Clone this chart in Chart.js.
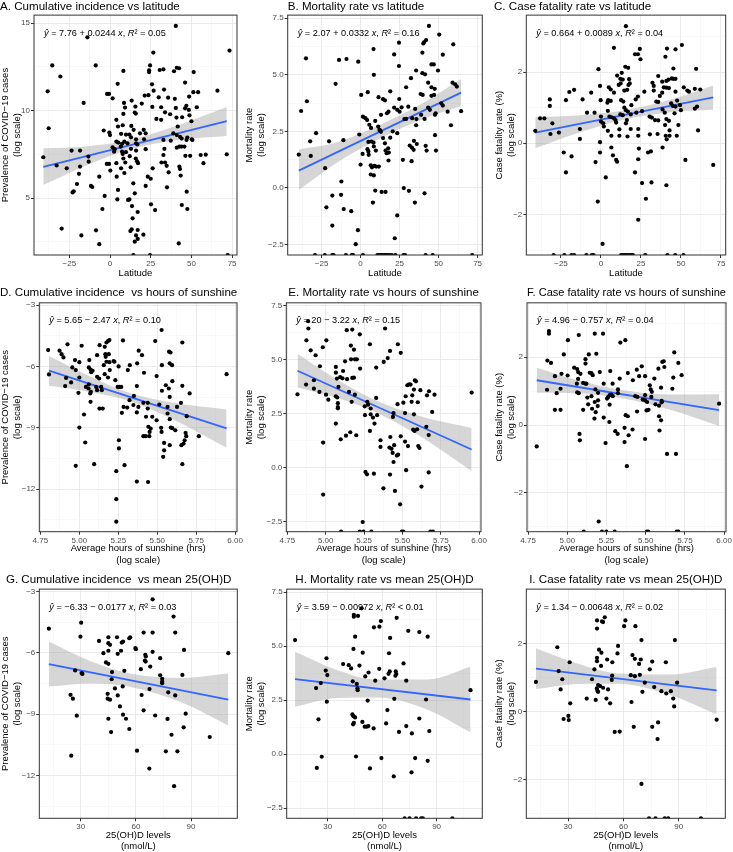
<!DOCTYPE html>
<html>
<head>
<meta charset="utf-8">
<script src="https://cdn.jsdelivr.net/npm/chart.js@4.4.0/dist/chart.umd.min.js"></script>
<style>
  body { margin: 0; background: #fff; }
  #fig { position: relative; width: 733px; height: 852px; overflow: hidden; }
  #fig canvas { position: absolute; }
</style>
</head>
<body>
<div id="fig"></div>
<script>
// ---- axis ticks / limits ----
const latTicks = [-25, 0, 25, 50, 75];
const latLabels = ['−25', '0', '25', '50', '75'];
const sunTicks = [4.75, 5.0, 5.25, 5.5, 5.75, 6.0];
const sunLabels = ['4.75', '5.00', '5.25', '5.50', '5.75', '6.00'];
const vitTicks = [30, 60, 90];
const vitLabels = ['30', '60', '90'];
const incTicksA = [5, 10, 15];
const incLabelsA = ['5', '10', '15'];
const incTicks = [-12, -9, -6, -3];
const incLabels = ['−12', '−9', '−6', '−3'];
const mortTicks = [-2.5, 0, 2.5, 5, 7.5];
const mortLabels = ['−2.5', '0.0', '2.5', '5.0', '7.5'];
const cfrTicks = [-2, 0, 2];
const cfrLabels = ['−2', '0', '2'];

const latRange = [-46.7, 78];
const sunRange = [4.743, 6.012];
const vitRange = [7.4, 115.2];
const incRangeA = [1.74, 15.46];
const incRange = [-14.08, -2.89];
const mortRange = [-2.97, 7.64];
const cfrRange = [-3.14, 3.6];

// ---- points [x, y]; -Infinity = zero count, drawn on the lower panel edge ----
const ptsA = [[40.4,14.84],[-13.9,14.19],[73.4,13.43],[26.6,13.32],[-35.5,12.58],[-8.8,12.58],[24.6,12.58],[30.5,12.32],[32.8,12.36],[24,12.3],[24,12.2],[8.2,12.27],[41,12.45],[42.4,12.42],[39.3,12.25],[51.4,12.2],[-30.5,11.95],[4.7,11.53],[46.1,11.6],[25.8,11.5],[26.8,11.14],[-38.3,11.1],[33.2,11.2],[51.2,11.05],[54.1,11.05],[66,11.14],[-1.8,10.95],[-0.6,10.95],[1.6,10.7],[21.3,10.86],[23.6,10.88],[29.9,10.76],[35.7,10.74],[39.8,10.67],[48.6,10.8],[-16.2,10.44],[8.6,10.44],[13.3,10.57],[19.5,10.4],[9.2,10.17],[15.6,10.23],[26,10.21],[31.4,10.19],[46.9,10.27],[46.1,10.13],[53.3,10.19],[40.4,10.15],[33.8,9.9],[36.9,9.79],[48.4,10.04],[48.8,9.73],[15.2,9.89],[15.8,9.83],[8.2,9.81],[3.9,9.47],[31.4,9.47],[28.5,9.52],[40.8,9.6],[44.3,9.62],[50,9.39],[-37.7,8.99],[4.9,9.09],[7.8,9.16],[13.1,9.12],[14.5,8.9],[20.7,8.9],[41.6,9.09],[-3.9,8.86],[-0.4,8.74],[0,8.6],[6.8,8.67],[9.8,8.63],[11.9,8.63],[12.9,8.47],[21.9,8.7],[20.9,8.36],[16,8.36],[18.4,8.7],[38.9,8.7],[41,8.6],[43,8.5],[44,8.4],[32.8,8.32],[47.5,8.46],[50.6,8.32],[37.3,8.28],[43.9,7.94],[47,8.32],[50.2,8.36],[3.9,8.23],[5.1,8.17],[7.4,8.1],[8.8,8.23],[10.7,8.13],[16,8.13],[16.8,8.06],[1.6,7.9],[2.9,7.79],[2.5,7.65],[6.6,7.94],[12.9,7.81],[7.4,7.65],[9.8,7.62],[7.8,7.52],[-23.6,7.71],[-18.4,7.71],[16,7.71],[21.9,7.79],[33.4,7.81],[41,7.88],[42.6,7.94],[45.7,7.94],[-41,7.33],[-13.3,7.37],[-13.1,7.08],[8.2,7.26],[9.4,7.03],[12.1,7.39],[15.8,7.26],[16.6,7.1],[17.2,6.99],[31.6,7.03],[32.8,7.46],[33.8,7.03],[34.8,6.84],[46.3,7.41],[49.2,7.41],[55.7,7.46],[58.8,7.48],[71.7,7.5],[57.4,6.99],[-2,6.95],[-0.6,6.95],[3.9,6.99],[-18.4,6.8],[-32.8,6.86],[-26.6,6.7],[0.2,6.57],[6.8,6.7],[8.8,6.43],[12.7,6.76],[25,6.1],[26.2,6.7],[36,6.47],[42.6,6.8],[43,6.66],[43.4,6.28],[-19.1,6.38],[-6.6,6.22],[4.1,6.22],[23.2,6.22],[-20.3,5.8],[14.3,5.84],[-11.7,5.69],[-10.9,5.63],[21.9,5.69],[35,5.61],[-23,5.32],[-22.3,5.38],[4.9,5.46],[15.2,5.27],[47.1,5.36],[-3.3,5.12],[4.5,4.92],[11.1,4.89],[11.9,4.92],[13.5,4.54],[25.2,4.64],[44.1,4.6],[47.5,4.37],[-4.7,4.37],[27.7,4.31],[17,4.2],[13.9,3.84],[-29.7,3.25],[-8.6,3.15],[12.5,3.11],[13.3,3.21],[17,3.17],[16,2.86],[17,2.66],[-17.6,2.86],[20.5,2.9],[15.2,2.5],[-6.6,2.36],[42.2,2.4],[14.3,-Infinity],[24.6,-Infinity],[72.3,-Infinity]];

const ptsB = [[43.8,7.16],[50.4,6.78],[24.6,6.42],[40.8,6.45],[42,6.54],[40.2,6.39],[59.4,6.35],[8.3,6.14],[21.5,5.9],[39.6,5.98],[52.7,5.89],[-35,5.73],[-13.8,5.66],[-9,5.7],[-1.5,5.58],[24.6,5.39],[45.4,5.46],[46.9,5.46],[35.6,5.19],[8.5,5.0],[39.6,5.07],[41.3,5.02],[49.6,5.19],[32.3,4.85],[-16,4.6],[43.3,4.65],[45.4,4.45],[47.5,4.38],[58.9,4.65],[19,4.27],[4.6,4.23],[29.2,4.45],[0.4,4.11],[11.5,4.01],[14.4,3.92],[15.6,3.87],[24.8,3.93],[38.5,4.15],[39.8,4.11],[45.4,4.07],[47.1,4.11],[60.6,4.58],[61.7,4.48],[-34.4,3.83],[-38.1,3.4],[1.5,3.15],[3.1,3.08],[4.2,3.0],[17.9,3.37],[16.9,3.3],[13.1,3.23],[21.5,3.55],[23.5,3.45],[25,3.37],[26.3,3.56],[33.1,3.08],[30.6,3.59],[35,3.49],[43.3,3.55],[44.4,3.45],[38.8,3.23],[41,3.05],[48.1,3.3],[47.7,3.23],[51.7,3.74],[52.7,3.64],[55.8,3.37],[57.9,2.77],[64.4,3.39],[28.1,3.04],[29.2,3.05],[35.8,3.04],[35.6,2.77],[5.6,2.79],[6.7,2.65],[9.4,2.96],[11.3,2.71],[12.1,2.56],[12.5,2.54],[13,2.48],[20.6,2.5],[23.5,2.42],[-28.5,2.42],[-32.3,2.06],[-20.2,2.06],[-11,2.11],[-0.8,2.36],[5,2.03],[6.9,2.05],[8.3,2.0],[14.4,2.2],[15.6,1.97],[19,2.22],[34.2,2.08],[36,1.94],[41.7,1.86],[47.7,2.33],[31.5,1.87],[-39.6,1.47],[-31.9,1.41],[1.3,1.5],[4.4,1.71],[5,1.61],[8.5,1.83],[9.8,1.65],[16,1.65],[16.7,1.53],[17.7,1.75],[18.1,1.56],[32.9,1.78],[34,1.68],[32.7,1.18],[27.1,1.24],[17.9,1.21],[42.3,1.65],[48.3,1.65],[0,1.03],[6.5,1.0],[7.3,0.91],[8.8,0.97],[10,0.94],[11.7,0.94],[5.2,1.46],[-22.7,0.87],[6.5,0.59],[8.5,0.55],[-12.3,0.28],[9.4,-0.12],[13.5,-0.18],[16,-0.18],[27.7,-0.01],[31,-0.13],[34.8,-0.65],[41,-0.24],[-18.1,-0.34],[-12.5,-0.31],[7.9,-0.65],[-21.9,-0.86],[-10.8,-0.94],[-6,-1.03],[23.5,-1.22],[-18.1,-1.67],[-1.7,-1.87],[21.9,-2.23],[-3.1,-2.49],[-29.2,-Infinity],[-22.9,-Infinity],[-18.1,-Infinity],[-17.3,-Infinity],[-9.4,-Infinity],[-5.6,-Infinity],[-4.8,-Infinity],[1.5,-Infinity],[10.8,-Infinity],[11.9,-Infinity],[13.1,-Infinity],[13.9,-Infinity],[15.2,-Infinity],[16,-Infinity],[17.3,-Infinity],[18.5,-Infinity],[20,-Infinity],[22.3,-Infinity],[27.5,-Infinity],[28.5,-Infinity],[41.7,-Infinity],[46.3,-Infinity],[71.5,-Infinity]];

const ptsC = [[15.6,3.29],[50.6,2.76],[8.1,2.68],[41.3,2.66],[46.6,2.64],[24.3,2.65],[40.3,2.43],[21.3,2.5],[23.1,2.5],[24.7,2.36],[-1.6,2.08],[59.5,2.09],[15.2,2.15],[17,2.12],[45.3,2.1],[13,1.98],[10.1,1.9],[12.1,1.81],[13.6,1.79],[17.6,1.8],[44.3,1.82],[45.3,1.81],[46.6,1.81],[42.3,1.79],[35.8,1.89],[32.2,1.7],[33,1.61],[38.3,1.73],[40.9,1.75],[17.2,1.64],[18,1.68],[11.1,1.64],[12.3,1.68],[-0.6,1.61],[4.9,1.57],[6.1,1.51],[8.1,1.42],[-19.8,1.44],[-16.8,1.5],[-6.1,1.42],[-11.5,1.23],[-21.9,1.21],[-32,1.23],[39.3,1.57],[40.9,1.56],[42.5,1.55],[51.8,1.57],[54,1.48],[55,1.45],[58.7,1.53],[62.1,1.51],[46.6,1.45],[14.6,1.48],[16.4,1.5],[27.1,1.45],[33,1.48],[23.1,1.31],[21.7,1.23],[38.3,1.42],[36.8,1.33],[12.6,1.21],[14,1.17],[4.5,1.21],[6.1,1.19],[4,1.14],[-0.2,1.21],[19,1.07],[14.6,1],[15.6,0.93],[16.8,0.89],[43.9,1.12],[44.9,1.05],[34.6,1.17],[35.8,1.16],[47.6,1.2],[46.6,1.03],[49.4,1.07],[50,0.93],[58.7,0.97],[60.1,1.03],[46,0.84],[25.7,0.9],[-8.7,0.86],[-4,0.86],[4.3,0.91],[5.3,0.75],[6.7,0.73],[8.1,0.7],[0,0.75],[12.1,0.81],[13.6,0.79],[18.6,0.81],[22.1,0.86],[38.5,0.95],[39.9,0.86],[30.4,0.75],[31.8,0.72],[33.8,0.65],[35.8,0.64],[40.9,0.68],[42.5,0.63],[-41.1,0.35],[-38.1,0.7],[-35.4,0.7],[-32,1.05],[-30.4,0.56],[-31.6,0.26],[-26.3,0.3],[-13.2,0.4],[-13.2,0.12],[1.4,0.56],[0,0.61],[1.8,0.47],[4.3,0.35],[9.1,0.65],[9.5,0.58],[11.5,0.39],[15.6,0.56],[16.2,0.65],[18.6,0.4],[23.3,0.4],[23.3,0.21],[16.6,0.19],[11.5,0.21],[6.5,0.21],[30.6,0.25],[35.4,0.26],[40.5,0.21],[41.1,0.11],[42.9,0.21],[47.4,0.21],[60.7,0.36],[40.1,0.51],[42.9,0.36],[48.4,0.51],[-0.6,0.03],[6.5,-0.12],[38.5,-0.12],[-23.3,-0.26],[-18.4,-0.37],[-0.6,-0.26],[7.5,-0.34],[9.5,-0.47],[10.1,-0.52],[-3.4,-0.53],[29.4,-0.26],[31.2,-0.23],[23.7,-0.15],[23.3,-0.45],[52.8,-0.47],[70.2,-0.61],[-21.9,-0.82],[21.3,-0.82],[3,-0.96],[25.7,-1.12],[31.6,-1.1],[40.9,-1.18],[28.1,-1.56],[-2,-1.64],[23.3,-2.15],[1,-2.83],[-29.6,-Infinity],[-22.9,-Infinity],[-18.4,-Infinity],[-16.8,-Infinity],[-9.1,-Infinity],[-5.7,-Infinity],[-4.7,-Infinity],[12.6,-Infinity],[13.6,-Infinity],[14.6,-Infinity],[15.6,-Infinity],[16.6,-Infinity],[18,-Infinity],[19,-Infinity],[20,-Infinity],[27.7,-Infinity],[41.5,-Infinity],[46.4,-Infinity],[51.6,-Infinity]];

const ptsD = [[5.528,-4.22],[5.487,-4.76],[5.28,-4.73],[5.661,-4.83],[4.80,-5.2],[4.873,-5.23],[4.886,-5.4],[4.898,-5.56],[4.924,-4.92],[5.015,-4.99],[5.13,-4.96],[5.174,-4.83],[5.184,-4.76],[5.193,-4.71],[5.163,-5.04],[5.114,-5.45],[5.167,-5.4],[5.169,-5.53],[5.189,-5.4],[5.381,-5.23],[5.402,-5.45],[5.576,-5.28],[5.585,-5.32],[4.972,-5.69],[5.0,-5.79],[5.064,-5.69],[5.174,-5.77],[5.193,-5.79],[5.157,-5.94],[5.22,-5.74],[5.225,-5.77],[5.195,-6.18],[5.252,-6.0],[5.311,-6.18],[5.324,-5.94],[5.371,-5.85],[5.415,-6.31],[5.53,-5.94],[5.58,-5.85],[5.595,-5.94],[4.955,-6.05],[4.977,-6.18],[5.061,-6.05],[5.072,-6.15],[5.076,-6.28],[5.085,-6.21],[5.114,-6.51],[5.127,-6.59],[5.163,-6.38],[5.184,-6.54],[4.805,-6.39],[4.915,-6.56],[4.909,-6.96],[4.947,-6.78],[5.0,-6.54],[4.994,-7.29],[5.042,-7.0],[5.059,-7.08],[5.074,-7.24],[5.07,-7.32],[5.072,-7.73],[5.061,-6.88],[5.108,-7.0],[5.114,-7.16],[5.144,-7.16],[5.14,-7.0],[5.246,-7.0],[5.258,-7.0],[5.269,-7.0],[5.231,-6.67],[5.369,-6.96],[5.496,-6.47],[5.53,-7.19],[5.574,-7.08],[5.597,-6.72],[5.555,-6.92],[5.58,-7.49],[5.661,-6.95],[5.708,-7.32],[5.945,-6.38],[5.35,-7.44],[5.322,-7.65],[5.129,-8.06],[5.15,-8.06],[5.284,-7.98],[5.307,-8.01],[5.347,-7.89],[5.379,-7.98],[5.369,-8.25],[5.411,-7.78],[5.439,-7.78],[5.439,-8.06],[5.428,-8.46],[5.468,-8.46],[5.513,-7.86],[5.566,-7.98],[5.566,-8.3],[5.627,-7.98],[5.652,-7.78],[5.689,-8.43],[5.58,-8.58],[5.496,-8.63],[5.03,-8.35],[5.273,-8.27],[5.0,-8.99],[5.443,-8.95],[5.458,-9.04],[5.525,-9.0],[5.528,-9.2],[5.587,-8.99],[5.597,-9.02],[5.616,-9.12],[5.682,-9.25],[5.411,-9.41],[5.426,-9.41],[5.449,-9.41],[5.451,-9.2],[5.544,-9.74],[5.58,-9.85],[5.655,-9.85],[5.669,-9.77],[5.676,-9.61],[5.686,-9.41],[5.767,-9.41],[5.544,-10.1],[5.254,-9.61],[5.254,-10.01],[5.038,-9.72],[5.538,-10.42],[4.977,-10.86],[5.095,-10.78],[5.29,-10.83],[5.661,-10.78],[5.237,-11.12],[5.369,-11.63],[5.441,-11.65],[5.237,-12.49],[5.237,-13.59]];

const ptsE = [[4.885,6.79],[4.887,6.45],[5.137,6.37],[5.173,6.4],[5.387,6.45],[5.222,6.18],[4.874,5.9],[5.004,5.9],[4.981,5.58],[5.164,5.66],[5.288,5.72],[5.47,5.72],[4.902,5.44],[4.934,5.21],[5.184,5.47],[5.419,5.41],[5.489,5.32],[5.404,5.08],[5.378,4.9],[5.19,5.02],[5.165,5.02],[5.203,5.02],[5.126,4.93],[4.962,4.7],[5.066,4.67],[5.224,4.59],[5.329,4.64],[5.113,4.48],[5.066,4.4],[5.094,4.2],[5.109,4.14],[5.073,4.13],[5.139,4.1],[5.173,4.16],[5.184,4.17],[4.923,4.05],[4.872,3.85],[5.083,3.74],[4.923,3.66],[4.959,3.51],[5.152,3.51],[4.816,3.4],[5.002,3.38],[5.017,3.15],[5.066,3.31],[5.075,3.25],[5.169,3.05],[5.19,3.38],[5.271,3.05],[5.276,2.92],[5.329,3.23],[5.532,3.82],[5.543,3.86],[5.553,3.85],[5.581,4.05],[5.588,4.0],[5.575,3.62],[5.564,3.35],[5.617,3.59],[5.673,3.54],[5.709,3.38],[5.66,3.35],[5.468,2.94],[5.506,3.01],[5.521,3.31],[5.56,3.05],[5.6,3.03],[5.951,3.48],[5.079,2.99],[5.079,2.81],[5.079,2.75],[5.254,2.84],[5.293,2.74],[5.335,2.43],[5.293,2.47],[5.308,2.32],[5.256,2.43],[5.318,2.04],[5.288,1.7],[5.442,2.53],[5.438,2.35],[5.517,2.53],[5.575,2.47],[5.57,1.76],[5.579,1.7],[5.596,1.78],[5.656,1.89],[5.694,2.58],[5.671,1.51],[5.066,2.04],[4.983,1.16],[5.098,1.31],[5.132,1.48],[5.16,1.64],[5.199,1.5],[5.357,1.27],[5.421,1.42],[5.489,1.45],[5.517,1.21],[5.536,1.0],[5.446,1.04],[5.415,0.93],[5.429,0.87],[5.436,0.68],[5.442,0.26],[5.464,0.56],[5.472,0.6],[5.357,0.96],[5.603,1.0],[5.611,0.91],[5.259,-0.2],[5.269,-0.31],[5.314,-0.28],[5.376,-0.96],[5.419,-0.32],[5.451,-1.08],[5.524,-0.12],[5.624,-0.88],[5.671,-0.22],[5.485,-1.7],[4.983,-1.25],[5.241,-2.52],[5.1,-Infinity],[5.222,-Infinity],[5.246,-Infinity],[5.297,-Infinity],[5.496,-Infinity],[5.506,-Infinity],[5.682,-Infinity],[5.699,-Infinity]];

const ptsF = [[4.883,2.77],[4.883,2.69],[5.004,2.5],[5.073,2.65],[5.175,2.69],[5.228,2.69],[5.338,2.43],[5.37,2.5],[4.978,2.08],[5.137,2.08],[5.185,2.1],[5.682,2.14],[4.873,1.9],[4.896,1.83],[5.116,1.94],[5.116,1.81],[5.606,1.86],[5.615,1.88],[5.708,1.83],[5.619,1.71],[5.475,1.73],[5.044,1.69],[5.063,1.65],[5.069,1.56],[5.084,1.51],[4.963,1.51],[4.921,1.44],[5.002,1.46],[5.143,1.54],[5.154,1.53],[5.162,1.47],[5.207,1.56],[5.274,1.59],[5.386,1.53],[5.443,1.63],[5.458,1.44],[5.496,1.44],[5.581,1.66],[5.729,1.47],[5.676,1.4],[5.334,1.37],[5.418,1.32],[5.555,1.37],[5.069,1.36],[5.101,1.24],[5.116,1.22],[5.122,1.22],[5.232,1.22],[5.289,1.22],[5.061,1.22],[5.526,1.17],[5.598,1.1],[5.532,1.05],[5.539,0.98],[5.67,1.07],[4.871,1.04],[4.957,1.07],[4.932,0.94],[5.063,0.96],[5.073,0.94],[5.179,1.05],[5.196,0.95],[5.323,1.05],[5.323,0.94],[5.28,0.9],[5.27,0.88],[5.29,0.85],[5.26,0.82],[5.496,0.88],[5.433,0.85],[5.447,0.83],[5.481,0.75],[5.496,0.73],[5.509,0.68],[5.536,0.83],[5.562,0.61],[5.585,0.57],[5.602,0.71],[5.602,0.67],[5.968,0.63],[5.128,0.81],[5.154,0.85],[5.175,0.68],[5.196,0.73],[5.253,0.78],[5.194,0.56],[5.27,0.6],[5.133,0.61],[4.921,0.45],[4.957,0.45],[5.101,0.45],[5.158,0.48],[5.181,0.38],[5.173,0.19],[5.232,0.22],[5.268,0.09],[5.372,0.29],[5.386,0.26],[5.445,0.4],[5.505,0.43],[5.518,0.45],[5.585,0.26],[5.598,0.14],[5.306,-0.18],[5.321,-0.26],[5.365,-0.08],[5.391,-0.3],[5.416,-0.13],[5.496,-0.41],[5.588,-0.16],[5.078,-0.26],[5.08,-0.45],[5.365,-0.5],[5.244,-0.53],[4.805,-0.63],[5.636,-0.85],[5.693,-0.85],[5.38,-1.21],[5.2,-2.84],[5.105,-Infinity],[5.221,-Infinity],[5.249,-Infinity],[5.302,-Infinity],[5.507,-Infinity],[5.517,-Infinity],[5.697,-Infinity],[5.708,-Infinity]];

const ptsG = [[69.1,-3.39],[80.5,-4.23],[30.2,-4.53],[12.6,-4.82],[64.2,-5.01],[69.1,-5.01],[81.4,-5.01],[29.8,-5.21],[39.9,-5.42],[45,-5.24],[49.7,-5.24],[56.4,-5.29],[56.9,-5.24],[53,-5.45],[52.3,-5.5],[45,-5.53],[45.9,-5.61],[42.3,-6.02],[45,-5.9],[51.9,-5.9],[50.1,-6.05],[59.7,-5.77],[60,-5.82],[69.1,-5.95],[86.2,-5.86],[110.3,-6.02],[65.1,-6.1],[65.4,-6.18],[73.2,-6.26],[43.7,-6.47],[45,-6.54],[64.9,-6.38],[65.3,-6.43],[67.8,-6.67],[62.7,-6.8],[26.9,-6.86],[30.4,-6.99],[30.9,-7.03],[47,-6.94],[53.7,-6.88],[73.2,-7.1],[74.3,-7.27],[74.3,-7.4],[74.3,-7.48],[85.3,-7.08],[46.8,-7.29],[52.8,-7.64],[48.6,-7.74],[67.4,-7.77],[24.4,-8.05],[25.7,-8.24],[44.6,-8.0],[44.6,-8.24],[45.9,-8.29],[50.1,-8.08],[63.1,-8.06],[77.6,-7.93],[81.4,-8.08],[51.3,-8.62],[27.8,-9.07],[53,-9.02],[54.6,-9.22],[45,-9.22],[64.2,-8.81],[70.5,-9.06],[77.2,-9.23],[87.1,-8.97],[86,-9.64],[56.4,-9.72],[46.5,-9.87],[79.4,-10.0],[100.2,-10.11],[24.8,-11.02],[60.6,-10.78],[76.3,-10.81],[82.6,-10.81],[67.3,-11.65],[80.8,-12.51]];

const ptsH = [[48.7,6.75],[44.4,6.45],[44.4,6.36],[46.7,6.4],[68,6.31],[59.3,6.16],[58.5,5.9],[55.5,5.87],[74.4,5.71],[80.5,5.65],[12,5.28],[64.4,5.38],[85.1,5.44],[45.1,5.44],[44.2,4.87],[49.3,4.7],[63.8,4.67],[29.3,4.44],[38.5,4.17],[41.6,4.12],[47.5,4.1],[71.8,4.2],[42.9,3.97],[58.4,3.95],[28.9,3.87],[67.5,3.83],[67.8,3.71],[67.3,3.63],[64.2,3.83],[63.5,3.72],[52.5,3.78],[29.8,3.66],[50.7,3.6],[61.3,3.51],[56.2,3.4],[73.3,3.4],[43.8,3.37],[46,3.25],[46.4,3.05],[46.5,2.96],[23.6,3.06],[26.2,3.29],[52,2.48],[66.7,2.56],[84.2,2.53],[108.7,2.96],[29.5,2.43],[43.6,1.84],[44.2,1.76],[45.1,1.7],[44.4,1.45],[44,1.38],[49.1,1.49],[50.4,1.27],[51.5,1.27],[52.4,1.3],[55.3,1.19],[62.2,1.42],[62.9,2.04],[73.3,1.3],[80.5,1.65],[69.3,1.03],[76.4,0.96],[86,1.07],[24.9,1.61],[26.7,-0.12],[24,-0.64],[45.6,-0.11],[59.6,-0.18],[78.2,-0.18],[85.1,-0.31],[53.3,-0.66],[76.2,-0.84],[66.4,-1.03],[72.4,-Infinity],[75.1,-Infinity],[78.7,-Infinity],[81.5,-Infinity],[82.4,-Infinity],[98.7,-Infinity]];

const ptsI = [[49.9,2.77],[45.7,2.68],[48.4,2.65],[49,2.63],[45.7,2.44],[61.1,2.68],[60.4,2.51],[66.5,2.51],[69.8,2.1],[87.9,2.1],[24.2,1.89],[46.8,1.82],[57.1,1.93],[48.1,1.73],[56.8,1.71],[64.9,1.66],[66.2,1.55],[69.4,1.53],[68.5,1.4],[45.7,1.58],[45.7,1.48],[51.2,1.53],[30.9,1.45],[54,1.45],[75.6,1.47],[83,1.45],[47.9,1.34],[44.3,1.24],[74.3,1.24],[24.9,1.19],[53.9,1.06],[64,1.07],[66.2,1.04],[68.9,1.08],[53.7,0.93],[26.9,0.95],[43,0.95],[71.6,0.85],[89.1,0.85],[12.6,0.87],[46.3,0.78],[47.4,0.75],[45.6,0.68],[45.9,0.61],[49,0.7],[51.7,0.65],[26,0.65],[76.7,0.72],[85.7,0.6],[70.3,0.58],[46.3,0.58],[80.6,0.6],[83.2,0.53],[50.8,0.38],[40.1,0.38],[45,0.34],[52.8,0.24],[64.4,0.28],[87,0.38],[31.2,0.24],[87.5,0.15],[30.2,-0.13],[27.6,-0.22],[30.4,-0.25],[55.3,-0.6],[58,-0.59],[65.6,-0.45],[75.6,-0.45],[78.8,-0.32],[78.5,-0.81],[110.5,-0.24],[69.8,-2.13],[73.9,-Infinity],[77.4,-Infinity],[82.4,-Infinity],[84.3,-Infinity],[102,-Infinity]];

// ---- fitted line end points [x, y] and 95% band [x, lower, upper] ----
const fitA = [[-41, 6.78], [71.7, 9.4]];
const bandA = [[-41, 5.74, 7.84], [-15, 6.85, 7.95], [10, 7.72, 8.27], [40, 8.3, 9.1], [71.7, 8.55, 10.2]];
const fitB = [[-39.6, 0.76], [64.4, 4.21]];
const bandB = [[-39.6, -0.1, 1.7], [-15, 1.12, 2.02], [12, 2.17, 2.77], [40, 3.05, 3.75], [64.4, 3.61, 4.81]];
const fitC = [[-41.1, 0.3], [70.2, 1.29]];
const bandC = [[-41.1, -0.14, 0.74], [-15, 0.28, 0.78], [14, 0.66, 0.92], [45, 0.88, 1.24], [70.2, 0.94, 1.62]];
const fitD = [[4.805, -6.21], [5.945, -9.03]];
const bandD = [[4.805, -6.95, -5.49], [5.05, -7.22, -6.42], [5.3, -7.64, -7.24], [5.6, -8.58, -7.78], [5.945, -9.98, -8.1]];
const fitE = [[4.816, 4.49], [5.951, 0.84]];
const bandE = [[4.816, 3.72, 5.28], [5.05, 3.29, 4.19], [5.3, 2.65, 3.21], [5.6, 1.52, 2.42], [5.951, -0.16, 1.84]];
const fitF = [[4.805, 1.32], [5.968, 0.44]];
const bandF = [[4.805, 0.95, 1.69], [5.05, 0.94, 1.34], [5.35, 0.79, 1.03], [5.65, 0.46, 0.9], [5.968, -0.03, 0.91]];
const fitG = [[12.6, -6.55], [110.3, -8.28]];
const bandG = [[12.6, -7.65, -5.45], [35, -7.5, -6.4], [57, -7.67, -7.01], [85, -8.43, -7.23], [110.3, -9.55, -7.01]];
const fitH = [[12, 3.47], [108.7, 2.53]];
const bandH = [[12, 2.2, 4.74], [35, 2.6, 3.9], [57, 2.62, 3.46], [85, 2.06, 3.46], [108.7, 1.01, 4.05]];
const fitI = [[12.6, 1.26], [110.5, 0.62]];
const bandI = [[12.6, 0.66, 1.86], [35, 0.81, 1.41], [57, 0.82, 1.12], [85, 0.49, 1.09], [110.5, -0.09, 1.31]];

const FONT = '"Liberation Sans", Arial, Helvetica, sans-serif';
Chart.defaults.font.family = FONT;

const incTitle = ['Prevalence of COVID−19 cases', '(log scale)'];
const mortTitle = ['Mortality rate', '(log scale)'];
const cfrTitle = ['Case fatality rate (%)', '(log scale)'];
const sunTitle = ['Average hours of sunshine (hrs)', '(log scale)'];
const vitTitle = ['25(OH)D levels', '(nmol/L)'];

const rows = [
    { top: 0, h: 280, xH: 25, tPad: [0, 1.2], xPad: 1.3 },
    { top: 280, h: 290, xH: 38.3, tPad: [5.8, 3.1], xPad: 4.3 },
    { top: 570, h: 282, xH: 33.7, tPad: [3.1, 2.1], xPad: 0 }
];
const cols = [
    { left: 0, w: 244, padL: 0 },
    { left: 244, w: 244, padL: 0 },
    { left: 488, w: 245, padL: 6 }
];

const panels = [
    { r: 0, c: 0, title: 'A. Cumulative incidence vs latitude', eq: 'ŷ = 7.76 + 0.0244 x, R² = 0.05', pts: ptsA, fit: fitA, band: bandA,
      x: [latRange, latTicks, latLabels, 'Latitude'], y: [incRangeA, incTicksA, incLabelsA, incTitle], yW: 34, padR: 7, align: 'start', full: true },
    { r: 0, c: 1, title: 'B. Mortality rate vs latitude', eq: 'ŷ = 2.07 + 0.0332 x, R² = 0.16', pts: ptsB, fit: fitB, band: bandB,
      x: [latRange, latTicks, latLabels, 'Latitude'], y: [mortRange, mortTicks, mortLabels, mortTitle], yW: 43.7, padR: 5.7, align: 'start', full: false },
    { r: 0, c: 2, title: 'C. Case fatality rate vs latitude', eq: 'ŷ = 0.664 + 0.0089 x, R² = 0.04', pts: ptsC, fit: fitC, band: bandC,
      x: [latRange, latTicks, latLabels, 'Latitude'], y: [cfrRange, cfrTicks, cfrLabels, cfrTitle], yW: 32.3, padR: 7.3, align: 'start', full: true },
    { r: 1, c: 0, title: 'D. Cumulative incidence  vs hours of sunshine', eq: 'ŷ = 5.65 − 2.47 x, R² = 0.10', pts: ptsD, fit: fitD, band: bandD,
      x: [sunRange, sunTicks, sunLabels, sunTitle], y: [incRange, incTicks, incLabels, incTitle], yW: 39.3, padR: 6.7, align: 'center', full: true },
    { r: 1, c: 1, title: 'E. Mortality rate vs hours of sunshine', eq: 'ŷ = 20 − 3.22 x, R² = 0.15', pts: ptsE, fit: fitE, band: bandE,
      x: [sunRange, sunTicks, sunLabels, sunTitle], y: [mortRange, mortTicks, mortLabels, mortTitle], yW: 42.3, padR: 5.7, align: 'center', full: false },
    { r: 1, c: 2, title: 'F. Case fatality rate vs hours of sunshine', eq: 'ŷ = 4.96 − 0.757 x, R² = 0.04', pts: ptsF, fit: fitF, band: bandF,
      x: [sunRange, sunTicks, sunLabels, sunTitle], y: [cfrRange, cfrTicks, cfrLabels, cfrTitle], yW: 33, padR: 7, align: 'center', full: false },
    { r: 2, c: 0, title: 'G. Cumulative incidence  vs mean 25(OH)D', eq: 'ŷ = −6.33 − 0.0177 x, R² = 0.03', pts: ptsG, fit: fitG, band: bandG,
      x: [vitRange, vitTicks, vitLabels, vitTitle], y: [incRange, incTicks, incLabels, incTitle], yW: 39.3, padR: 6.7, align: 'center', full: true },
    { r: 2, c: 1, title: 'H. Mortality rate vs mean 25(OH)D', eq: 'ŷ = 3.59 − 0.00972 x, R² < 0.01', pts: ptsH, fit: fitH, band: bandH,
      x: [vitRange, vitTicks, vitLabels, vitTitle], y: [mortRange, mortTicks, mortLabels, mortTitle], yW: 42.7, padR: 5.7, align: 'center', full: false },
    { r: 2, c: 2, title: 'I. Case fatality rate vs mean 25(OH)D', eq: 'ŷ = 1.34 − 0.00648 x, R² = 0.02', pts: ptsI, fit: fitI, band: bandI,
      x: [vitRange, vitTicks, vitLabels, vitTitle], y: [cfrRange, cfrTicks, cfrLabels, cfrTitle], yW: 32.3, padR: 7.7, align: 'center', full: false }
];

// grey panel border drawn over the points (ggplot theme_bw)
const frame = {
    id: 'frame',
    afterDatasetsDraw(chart) {
        const a = chart.chartArea, ctx = chart.ctx;
        ctx.save();
        ctx.strokeStyle = '#333333';
        ctx.lineWidth = 1;
        ctx.strokeRect(a.left, a.top, a.right - a.left, a.bottom - a.top);
        ctx.restore();
    }
};

// regression equation label, with italic y-hat, x and R
const eqLabel = {
    id: 'eqLabel',
    afterDatasetsDraw(chart, args, opts) {
        const ctx = chart.ctx;
        let x = chart.chartArea.left + opts.dx;
        const y = chart.chartArea.top + opts.dy;
        const runs = opts.text.match(/[ŷxR]|[^ŷxR]+/g);
        ctx.save();
        ctx.fillStyle = '#000';
        ctx.textBaseline = 'middle';
        runs.forEach(t => {
            ctx.font = (/[ŷxR]/.test(t) ? 'italic ' : '') + opts.size + 'px ' + FONT;
            ctx.fillText(t, x, y);
            x += ctx.measureText(t).width;
        });
        ctx.restore();
    }
};

// major ticks plus ggplot-style minor grid lines half way between them
function gridValues(majors, range) {
    const step = majors[1] - majors[0];
    const vals = majors.concat(majors.map(m => m - step / 2), [majors[majors.length - 1] + step / 2]);
    return vals.filter(v => v >= range[0] && v <= range[1]).sort((a, b) => a - b);
}

function axis(spec, isX, size, pad) {
    const [range, majors, labels, title] = spec;
    const isMajor = v => majors.some(m => Math.abs(m - v) < 1e-9);
    return {
        type: 'linear',
        min: range[0],
        max: range[1],
        afterBuildTicks: s => { s.ticks = gridValues(majors, range).map(v => ({ value: v })); },
        afterFit: s => { if (isX) s.height = size; else s.width = size; },
        ticks: {
            autoSkip: false,
            maxRotation: 0,
            padding: 1,
            color: '#4d4d4d',
            font: { size: 8 },
            callback: v => { const i = majors.findIndex(m => Math.abs(m - v) < 1e-9); return i < 0 ? '' : labels[i]; }
        },
        grid: {
            color: c => c.tick && isMajor(c.tick.value) ? '#ebebeb' : '#f4f4f4',
            lineWidth: c => c.tick && isMajor(c.tick.value) ? 1 : 0.6,
            tickLength: 3,
            tickColor: c => c.tick && isMajor(c.tick.value) ? '#333333' : 'rgba(0,0,0,0)'
        },
        border: { display: false },
        title: { display: true, text: title, color: '#000', font: { size: 9.5 }, padding: isX ? { top: 0, bottom: pad } : { top: 0, bottom: 0 } }
    };
}

function makePanel(p) {
    const row = rows[p.r], col = cols[p.c];
    const canvas = document.createElement('canvas');
    canvas.width = col.w;
    canvas.height = row.h;
    canvas.style.left = col.left + 'px';
    canvas.style.top = row.top + 'px';
    document.getElementById('fig').appendChild(canvas);

    const yFloor = p.y[0][0];
    new Chart(canvas, {
        type: 'scatter',
        data: {
            datasets: [
                { data: p.pts.map(([x, y]) => ({ x, y: isFinite(y) ? y : yFloor })),
                  backgroundColor: '#000', borderWidth: 0, pointRadius: 2.1, clip: 0, order: 0 },
                { type: 'line', data: p.fit.map(([x, y]) => ({ x, y })),
                  borderColor: '#3366ff', borderWidth: 1.8, pointRadius: 0, order: 1 },
                { type: 'line', data: p.band.map(([x, lo]) => ({ x, y: lo })),
                  borderColor: 'rgba(0,0,0,0)', borderWidth: 0, pointRadius: 0, cubicInterpolationMode: 'monotone', order: 2 },
                { type: 'line', data: p.band.map(([x, lo, hi]) => ({ x, y: hi })),
                  borderColor: 'rgba(0,0,0,0)', borderWidth: 0, pointRadius: 0, cubicInterpolationMode: 'monotone',
                  fill: '-1', backgroundColor: 'rgba(153,153,153,0.4)', order: 2 }
            ]
        },
        options: {
            responsive: false,
            animation: false,
            events: [],
            layout: { padding: { left: col.padL, right: p.padR, top: 0, bottom: 0 } },
            scales: {
                x: axis(p.x, true, row.xH, row.xPad),
                y: axis(p.y, false, p.yW, 0)
            },
            plugins: {
                legend: { display: false },
                tooltip: { enabled: false },
                title: {
                    display: true, text: p.title, align: p.align, fullSize: p.full, color: '#000',
                    font: { size: 11.6, weight: 'normal' }, padding: { top: row.tPad[0], bottom: row.tPad[1] }
                },
                eqLabel: { text: p.eq, dx: 10, dy: 18, size: 9.2 }
            }
        },
        plugins: [frame, eqLabel]
    });
}

panels.forEach(makePanel);
</script>
</body>
</html>
